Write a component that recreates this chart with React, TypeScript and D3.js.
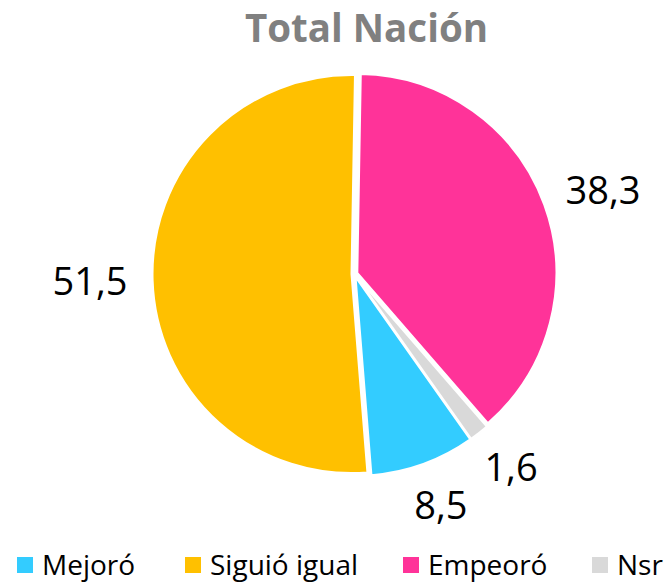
import React from "react";
import * as d3 from "d3";

const categories = ["Mejoró", "Siguió igual", "Empeoró", "Nsr"];
const values = [8.5, 51.5, 38.3, 1.6];
const labels = ["8,5", "51,5", "38,3", "1,6"];
const colors = ["#33CCFF", "#FFC000", "#FF3399", "#D9D9D9"];
const title = "Total Nación";

const W = 665;
const H = 583;

function textWidth(s: string, size: number) {
  let w = 0;
  for (const ch of s) w += ch === "," ? 0.26 : 0.572;
  return w * size;
}

export default function App() {
  const cx = 354.5;
  const cy = 274;
  const r = 199;
  const explode = 3;
  const total = d3.sum(values);
  const startAngle =
    2 * Math.PI - (2 * Math.PI * (values[0] + values[1])) / total + Math.PI / 180;
  const pie = d3
    .pie<number>()
    .sort(null)
    .value((d) => d)
    .startAngle(startAngle)
    .endAngle(startAngle + 2 * Math.PI);
  const arcs = pie(values);
  const arc = d3.arc<d3.PieArcDatum<number>>().innerRadius(0).outerRadius(r);
  const labelSize = 38;
  const labelGap = 28;
  const boxH = 38;

  const legendX = [17, 185, 403, 592];

  return (
    <svg
      width={W}
      height={H}
      style={{ position: "absolute", left: 0, top: 0, background: "#fff" }}
    >
      <text
        x={366.5}
        y={42}
        textAnchor="middle"
        fontFamily="'Open Sans', sans-serif"
        fontWeight={700}
        fontSize={38.5}
        fill="#808080"
      >
        {title}
      </text>
      <g transform={`translate(${cx},${cy})`}>
        {arcs.map((a, i) => {
          const mid = (a.startAngle + a.endAngle) / 2;
          const dx = Math.sin(mid) * explode;
          const dy = -Math.cos(mid) * explode;
          return (
            <path
              key={categories[i]}
              d={arc(a) || ""}
              transform={`translate(${dx},${dy})`}
              fill={colors[i]}
              stroke="#fff"
              strokeWidth={2}
              strokeLinejoin="round"
            />
          );
        })}
        {arcs.map((a, i) => {
          const mid = (a.startAngle + a.endAngle) / 2;
          const s = Math.sin(mid);
          const c = -Math.cos(mid);
          const w = textWidth(labels[i], labelSize);
          const x = s * (r + labelGap) + s * (w / 2);
          const y = c * (r + labelGap) + c * (boxH / 2);
          return (
            <text
              key={"l" + i}
              x={x}
              y={y}
              dy="0.36em"
              textAnchor="middle"
              fontFamily="'Open Sans', sans-serif"
              fontSize={labelSize}
              fill="#000"
            >
              {labels[i]}
            </text>
          );
        })}
      </g>
      {categories.map((c, i) => (
        <g key={"lg" + i} transform={`translate(${legendX[i]},557)`}>
          <rect width={16} height={16} fill={colors[i]} />
          <text
            x={25}
            y={18}
            fontFamily="'Open Sans', sans-serif"
            fontSize={28}
            fill="#000"
          >
            {c}
          </text>
        </g>
      ))}
    </svg>
  );
}
